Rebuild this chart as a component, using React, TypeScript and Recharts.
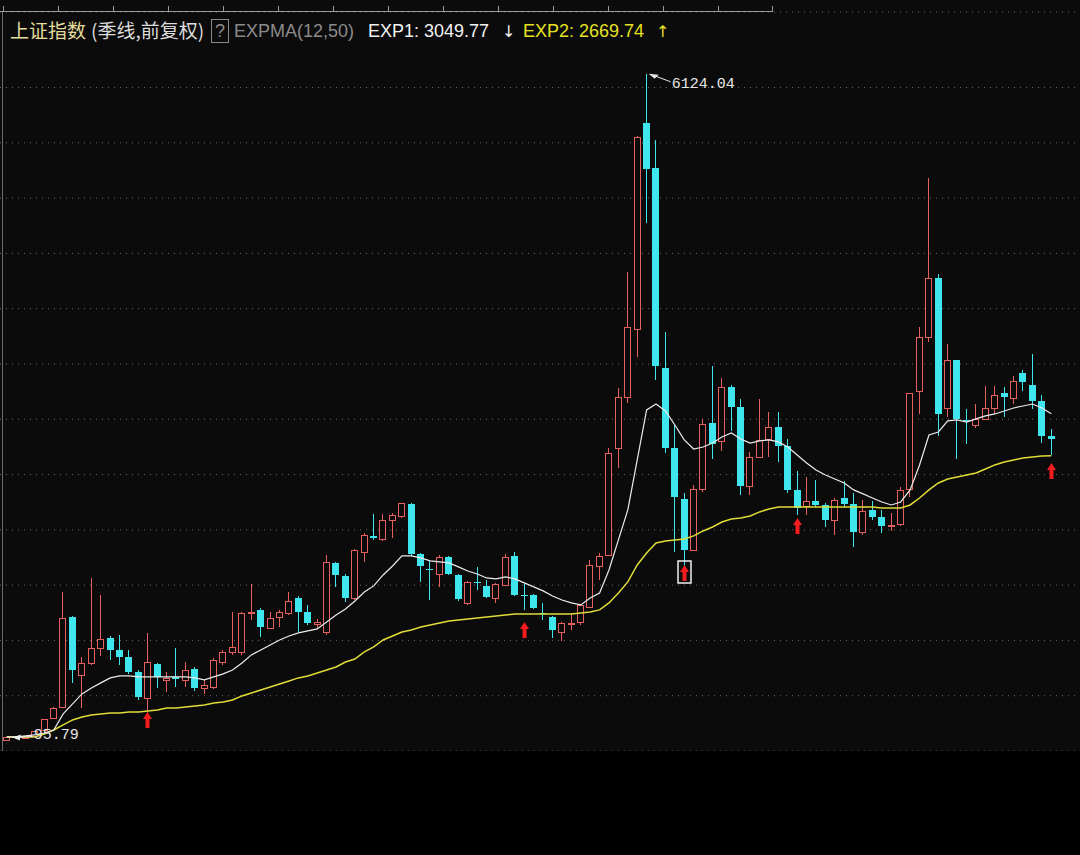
import React from 'react';
import { ComposedChart, Bar, Line, XAxis, YAxis, CartesianGrid, ReferenceDot } from 'recharts';

// quarterly categories 1990Q4 .. 2018Q3
const quarters: string[] = (() => {
  const out: string[] = [];
  let y = 1990;
  let q = 4;
  for (let i = 0; i < 112; i++) {
    out.push(`${y}Q${q}`);
    q++;
    if (q > 4) { q = 1; y++; }
  }
  return out;
})();

const openV = [
  96.05, 127.6, 120.2, 137.6, 190, 300, 398, 1212, 687, 795,
  930, 1022, 914, 850, 715, 480, 787, 642, 665, 642,
  742, 570, 580, 805, 896, 896, 1245, 1275, 1112, 1212,
  1248, 1384, 1257, 1148, 1076, 1700, 1583, 1384, 1800, 1945,
  1918, 2089, 2125, 2234, 1782, 1650, 1600, 1755, 1592, 1338,
  1525, 1492, 1384, 1501, 1764, 1415, 1411, 1252, 1212, 1076,
  1155, 1166, 1302, 1673, 1773, 2740, 3198, 3820, 5683, 5270,
  3460, 2739, 2283, 1821, 2373, 2967, 2800, 3290, 3109, 2398,
  2656, 2825, 2932, 2762, 2359, 2212, 2262, 2225, 2086, 2289,
  2236, 1979, 2175, 2112, 2033, 2050, 2366, 3258, 3748, 4279,
  3100, 3536, 2990, 2950, 3004, 3105, 3240, 3192, 3420, 3314,
  3168, 2847,
];
const highV = [
  127.6, 135, 137.6, 181, 293, 396, 1435, 1225, 850, 1560,
  1411, 1040, 1049, 914, 730, 1067, 800, 715, 930, 805,
  760, 642, 842, 914, 1258, 1260, 1510, 1290, 1257, 1275,
  1438, 1400, 1320, 1190, 1773, 1710, 1600, 1830, 1972, 2144,
  2144, 2150, 2245, 2245, 1790, 1727, 1770, 1760, 1600, 1540,
  1664, 1547, 1520, 1782, 1800, 1510, 1420, 1338, 1225, 1165,
  1248, 1330, 1727, 1790, 2740, 3283, 4335, 5562, 6124.04, 5522,
  3786, 2952, 2333, 2402, 3000, 3478, 3373, 3310, 3181, 2700,
  3186, 3067, 3067, 2826, 2536, 2478, 2453, 2247, 2290, 2444,
  2334, 2270, 2260, 2177, 2150, 2390, 3239, 3835, 5178, 4317,
  3684, 3538, 3097, 3140, 3301, 3301, 3295, 3391, 3450, 3587,
  3220, 2915,
];
const lowV = [
  95.79, 115, 105, 134, 180, 290, 390, 616, 387, 780,
  860, 823, 778, 700, 465, 326, 570, 534, 578, 575,
  540, 512, 560, 778, 869, 870, 1185, 1031, 1100, 1121,
  1230, 1076, 1140, 1115, 1050, 1483, 1350, 1370, 1709, 1910,
  1900, 1927, 2110, 1760, 1528, 1365, 1483, 1590, 1360, 1320,
  1456, 1380, 1338, 1490, 1400, 1275, 1280, 1185, 1022, 998,
  1094, 1140, 1290, 1547, 1760, 2559, 3150, 3563, 4778, 3357,
  2693, 1802, 1664, 1814, 2340, 2639, 2712, 2890, 2319, 2319,
  2650, 2661, 2610, 2331, 2132, 2132, 2208, 2029, 1949, 2205,
  1849, 1954, 2090, 1974, 1991, 2036, 2300, 3049, 3700, 2850,
  3023, 2638, 2780, 2925, 2990, 3044, 3016, 3135, 3254, 3091,
  2782, 2680,
];
const closeV = [
  127.6, 120.2, 137.6, 180.9, 290, 390, 1203, 733, 795, 930,
  1013, 914, 850, 715, 489, 805, 670, 660, 655, 733,
  570, 597, 824, 896, 941, 1248, 1257, 1121, 1203, 1257,
  1357, 1257, 1157, 1166, 1709, 1592, 1384, 1818, 1954, 1930,
  2089, 2135, 2243, 1782, 1673, 1640, 1755, 1600, 1375, 1528,
  1515, 1393, 1510, 1755, 1411, 1408, 1293, 1245, 1094, 1157,
  1162, 1320, 1682, 1764, 2692, 3198, 3831, 5552, 5261, 3484,
  2736, 2293, 1821, 2373, 2959, 2779, 3290, 3109, 2398, 2656,
  2808, 2928, 2762, 2359, 2199, 2262, 2225, 2086, 2269, 2237,
  1979, 2174, 2116, 2033, 2048, 2364, 3235, 3748, 4277, 3052,
  3539, 3003, 2980, 3005, 3104, 3223, 3200, 3349, 3337, 3169,
  2847, 2821,
];
const exp1V = [
  127.6, 127, 136, 145, 163, 190, 335, 426, 516, 570,
  616, 661, 679, 679, 670, 670, 670, 670, 670, 670,
  661, 643, 670, 697, 733, 796, 869, 914, 959, 1004,
  1040, 1068, 1086, 1104, 1167, 1230, 1285, 1357, 1438, 1493,
  1592, 1673, 1764, 1764, 1746, 1719, 1710, 1701, 1665, 1628,
  1601, 1565, 1556, 1574, 1556, 1520, 1484, 1448, 1402, 1366,
  1339, 1321, 1384, 1429, 1637, 1909, 2180, 2632, 3084, 3138,
  3075, 2948, 2813, 2731, 2749, 2785, 2840, 2876, 2822, 2785,
  2804, 2813, 2795, 2749, 2677, 2605, 2541, 2496, 2460, 2424,
  2361, 2325, 2288, 2252, 2225, 2252, 2361, 2587, 2858, 2885,
  2985, 2994, 2975, 3003, 3030, 3048, 3075, 3102, 3120, 3138,
  3102, 3049.77,
];
const exp2V = [
  127.6, 127, 127, 127, 154, 190, 236, 281, 308, 326,
  335, 344, 344, 353, 353, 362, 371, 389, 389, 398,
  407, 416, 434, 443, 461, 498, 525, 552, 579, 606,
  633, 661, 679, 706, 733, 760, 805, 832, 896, 941,
  1004, 1040, 1076, 1094, 1121, 1139, 1157, 1176, 1185, 1194,
  1203, 1212, 1221, 1230, 1239, 1239, 1239, 1239, 1239, 1239,
  1239, 1248, 1257, 1276, 1339, 1429, 1529, 1682, 1791, 1881,
  1899, 1909, 1918, 1945, 1990, 2026, 2071, 2098, 2107, 2125,
  2162, 2189, 2207, 2207, 2207, 2207, 2207, 2207, 2207, 2207,
  2207, 2207, 2207, 2198, 2198, 2198, 2225, 2288, 2361, 2424,
  2460, 2478, 2496, 2514, 2550, 2587, 2614, 2632, 2650, 2659,
  2668, 2669.74,
];

// buy-signal arrows: candle index and the value at the arrow tip
const signalIdx = [15, 55, 72, 84, 111];
const signalTip = [353, 1167, 1682, 2107, 2604];
const boxedSignal = 72;

const gridTicks = [500, 1000, 1500, 2000, 2500, 3000, 3500, 4000, 4500, 5000, 5500, 6000];
const yDomain: [number, number] = [0, 6683];

const peakIdx = 68;
const troughIdx = 0;

const rows = quarters.map((q, i) => ({
  q,
  range: [lowV[i], highV[i]],
  open: openV[i],
  high: highV[i],
  low: lowV[i],
  close: closeV[i],
  exp1: exp1V[i],
  exp2: exp2V[i],
}));

const BG = '#0b0b0b';
const UP = '#e8605e';
const DOWN = '#40e6ee';
const SIG = '#f41c1c';
const MONO = '"Liberation Mono", "DejaVu Sans Mono", monospace';
const SANS = '"Liberation Sans", Arial, "Noto Sans CJK SC", sans-serif';
const CJK = '"Noto Sans CJK SC", sans-serif';

const Candle = (props: any) => {
  const { x, y, width, height } = props;
  const d = props.payload ?? props;
  const { open, close, high, low } = d;
  if (x == null || y == null || !isFinite(height)) return null;
  const k = high - low > 0 ? height / (high - low) : 0;
  const yOf = (v: number) => y + (high - v) * k;
  const n = Math.round(x + width / 2 - 0.5);
  const cx = n + 0.5;
  const top = Math.round(yOf(Math.max(open, close)));
  const bot = Math.round(yOf(Math.min(open, close)));
  if (close >= open) {
    return (
      <g shapeRendering="crispEdges">
        <line x1={cx} x2={cx} y1={y} y2={top} stroke={UP} strokeWidth={1} />
        <line x1={cx} x2={cx} y1={bot} y2={y + height} stroke={UP} strokeWidth={1} />
        <rect x={n - 2.5} y={top + 0.5} width={6} height={Math.max(bot - top, 1)} fill={BG} stroke={UP} strokeWidth={1} />
      </g>
    );
  }
  return (
    <g shapeRendering="crispEdges">
      <line x1={cx} x2={cx} y1={y} y2={y + height} stroke={DOWN} strokeWidth={1} />
      <rect x={n - 3} y={top} width={7} height={Math.max(bot - top, 1)} fill={DOWN} />
    </g>
  );
};

const SignalArrow = (boxed: boolean) => (p: any) => {
  const { cx, cy } = p;
  if (cx == null || cy == null) return null;
  const x = Math.round(cx - 0.5) + 0.5;
  const pts = [
    [x, cy], [x + 4.5, cy + 7], [x + 2, cy + 7], [x + 2, cy + 16],
    [x - 2, cy + 16], [x - 2, cy + 7], [x - 4.5, cy + 7],
  ].map((a) => a.join(',')).join(' ');
  return (
    <g>
      {boxed && (
        <rect x={x - 6.5} y={cy - 4} width={13} height={22} fill="none" stroke="#f0f0f0" strokeWidth={1.5} />
      )}
      <polygon points={pts} fill={SIG} />
    </g>
  );
};

const PeakLabel = (p: any) => {
  const { cx, cy } = p;
  if (cx == null) return null;
  const tx = cx + 2;
  const ty = cy;
  return (
    <g>
      <polygon points={`${tx},${ty} ${tx + 10},${ty + 1} ${tx + 6},${ty + 5}`} fill="#e8e8e8" />
      <line x1={tx + 6} y1={ty + 2} x2={tx + 22} y2={ty + 8} stroke="#e8e8e8" strokeWidth={1} />
      <text x={tx + 23} y={ty + 14} fill="#e8e8e8" fontSize={15} fontFamily={MONO}>6124.04</text>
    </g>
  );
};

const TroughLabel = (p: any) => {
  const { cx, cy } = p;
  if (cx == null) return null;
  const tx = cx + 6;
  const ty = cy - 3;
  return (
    <g>
      <polygon points={`${tx},${ty} ${tx + 8},${ty - 3} ${tx + 7},${ty + 3}`} fill="#f0f0f0" />
      <line x1={tx + 7} y1={ty} x2={tx + 20} y2={ty - 1} stroke="#e8e8e8" strokeWidth={1} />
      <text x={tx + 21} y={cy - 1} fill="#e8e8e8" fontSize={15} fontFamily={MONO}>95.79</text>
    </g>
  );
};

const rulerTicks = [3, 58, 113, 168, 223, 278, 333, 388, 443, 498, 553, 608, 663, 718, 772];

export default function App() {
  const last = exp1V.length - 1;
  return (
    <div style={{ position: 'absolute', left: 0, top: 0, width: 1080, height: 855, background: '#000', overflow: 'hidden' }}>
      <div style={{ position: 'absolute', left: 0, top: 0, width: 1080, height: 751, background: BG }} />
      <div style={{ position: 'absolute', left: 0, top: 0 }}>
        <ComposedChart width={1080} height={751} data={rows} margin={{ top: 12, right: 0, bottom: 0, left: 0 }}>
          <CartesianGrid vertical={false} stroke="#6c6c6c" strokeDasharray="1 5" />
          <XAxis dataKey="q" hide padding={{ left: 2, right: 24 }} />
          <YAxis hide type="number" domain={yDomain} ticks={gridTicks} allowDataOverflow />
          <Bar dataKey="range" barSize={7} shape={(p: any) => <Candle {...p} />} isAnimationActive={false} />
          <Line dataKey="exp2" type="linear" stroke="#e0dc38" strokeWidth={1.5} dot={false} isAnimationActive={false} />
          <Line dataKey="exp1" type="linear" stroke="#ececec" strokeWidth={1.2} dot={false} isAnimationActive={false} />
          {signalIdx.map((idx, k) => (
            <ReferenceDot
              key={idx}
              x={quarters[idx]}
              y={signalTip[k]}
              r={1}
              ifOverflow="visible"
              shape={SignalArrow(idx === boxedSignal)}
            />
          ))}
          <ReferenceDot x={quarters[peakIdx]} y={highV[peakIdx]} r={1} ifOverflow="visible" shape={PeakLabel} />
          <ReferenceDot x={quarters[troughIdx]} y={lowV[troughIdx]} r={1} ifOverflow="visible" shape={TroughLabel} />
        </ComposedChart>
      </div>
      <svg width={1080} height={751} style={{ position: 'absolute', left: 0, top: 0, pointerEvents: 'none' }}>
        <line x1={0} x2={772} y1={11.5} y2={11.5} stroke="#9a9a9a" strokeWidth={1} />
        {rulerTicks.map((t) => (
          <line key={t} x1={t + 0.5} x2={t + 0.5} y1={6} y2={12} stroke="#9a9a9a" strokeWidth={1} />
        ))}
        <line x1={2.5} x2={2.5} y1={12} y2={751} stroke="#6a6a6a" strokeWidth={1} />
        <g fontSize={18} fontFamily={SANS}>
          <text x={10} y={38} fill="#e4dc9c" fontFamily={CJK} fontSize={19}>上证指数</text>
          <text x={91} y={38} fill="#dcdcdc" fontFamily={CJK} fontSize={19}>(季线,前复权)</text>
          <rect x={211.5} y={19.5} width={17} height={23} fill="none" stroke="#8a8a8a" strokeWidth={1} />
          <text x={215} y={37} fill="#8a8a8a">?</text>
          <text x={234} y={37} fill="#8a8a8a">EXPMA(12,50)</text>
          <text x={368} y={37} fill="#f2f2f2">{`EXP1: ${exp1V[last].toFixed(2)}`}</text>
          <text x={502} y={37} fill="#f2f2f2" fontFamily='"DejaVu Sans", sans-serif' fontSize={16}>↓</text>
          <text x={523} y={37} fill="#e6e220">{`EXP2: ${exp2V[last].toFixed(2)}`}</text>
          <text x={656} y={37} fill="#e6e220" fontFamily='"DejaVu Sans", sans-serif' fontSize={16}>↑</text>
        </g>
      </svg>
    </div>
  );
}
